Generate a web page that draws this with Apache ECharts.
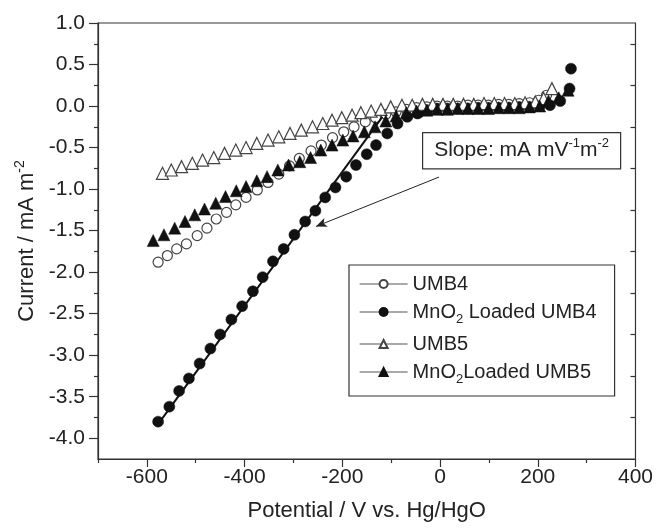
<!DOCTYPE html>
<html>
<head>
<meta charset="utf-8">
<script src="https://cdn.jsdelivr.net/npm/echarts@6/dist/echarts.min.js"></script>
<style>
  html, body { margin: 0; padding: 0; background: #fff; }
  #chart { width: 656px; height: 531px; }
</style>
</head>
<body>
<div id="chart"></div>
<script>
// UMB4 (open circles)
const umb4X = [-577, -558, -539, -519, -497, -477, -458, -437, -418, -397, -374, -352, -330, -308, -288, -264, -243, -220, -197, -176, -153, -132, -111, -90, -69, -48, -27, -6, 15, 36, 57, 78, 99, 120, 141, 162, 183, 202, 218]
const umb4Y = [-1.88, -1.80, -1.72, -1.66, -1.56, -1.47, -1.36, -1.28, -1.19, -1.10, -1.01, -0.92, -0.82, -0.72, -0.63, -0.54, -0.47, -0.38, -0.31, -0.25, -0.19, -0.14, -0.10, -0.07, -0.04, -0.02, -0.01, 0.00, 0.00, 0.00, 0.01, 0.01, 0.01, 0.02, 0.02, 0.03, 0.04, 0.07, 0.13]

// MnO2 loaded UMB4 (filled circles)
const mnUmb4X = [-577, -554, -534, -514, -492, -470, -450, -427, -405, -383, -363, -342, -320, -298, -276, -255, -235, -214, -192, -172, -150, -131, -108, -87, -67, -46, -26, -6, 15, 36, 57, 78, 99, 120, 141, 162, 183, 204, 225, 246, 265, 268]
const mnUmb4Y = [-3.80, -3.62, -3.43, -3.28, -3.10, -2.92, -2.75, -2.57, -2.41, -2.23, -2.06, -1.87, -1.72, -1.55, -1.39, -1.26, -1.10, -0.98, -0.85, -0.71, -0.58, -0.47, -0.33, -0.21, -0.13, -0.09, -0.05, -0.03, -0.03, -0.03, -0.03, -0.02, -0.02, -0.02, -0.02, -0.01, -0.01, 0.00, 0.01, 0.06, 0.21, 0.45]

// UMB5 (open triangles)
const umb5X = [-568, -550, -529, -507, -486, -463, -441, -418, -397, -375, -352, -330, -307, -284, -261, -240, -221, -201, -180, -162, -141, -121, -101, -78, -57, -36, -15, 6, 27, 48, 69, 90, 111, 132, 153, 174, 195, 212, 229]
const umb5Y = [-0.81, -0.77, -0.73, -0.69, -0.65, -0.62, -0.57, -0.53, -0.50, -0.45, -0.41, -0.37, -0.33, -0.29, -0.25, -0.21, -0.17, -0.14, -0.11, -0.08, -0.06, -0.04, -0.01, 0.01, 0.01, 0.02, 0.02, 0.02, 0.02, 0.02, 0.02, 0.03, 0.03, 0.03, 0.03, 0.04, 0.05, 0.09, 0.21]

// MnO2 loaded UMB5 (filled triangles)
const mnUmb5X = [-587, -565, -543, -522, -502, -482, -459, -439, -417, -397, -375, -354, -332, -310, -287, -265, -244, -221, -199, -178, -155, -133, -111, -90, -69, -48, -27, -6, 15, 36, 57, 78, 99, 120, 141, 162, 183, 204, 222, 243, 262]
const mnUmb5Y = [-1.62, -1.55, -1.47, -1.39, -1.31, -1.24, -1.17, -1.09, -1.02, -0.97, -0.90, -0.85, -0.77, -0.71, -0.67, -0.62, -0.53, -0.47, -0.41, -0.36, -0.31, -0.25, -0.18, -0.12, -0.08, -0.06, -0.05, -0.04, -0.04, -0.03, -0.03, -0.03, -0.03, -0.02, -0.02, -0.02, -0.01, 0.00, 0.06, 0.10, 0.19]

// linear fit through the MnO2 UMB4 points
const fitX = [-577, -118]
const fitY = [-3.83, -0.13]

// arrow from the slope label to the fit line
const arrowFrom = [-2, -0.855]
const arrowTo = [-254, -1.45]

// ticks
const xLabelTicks = [-600, -400, -200, 0, 200, 400]
const xMinorTicks = [-700, -500, -300, -100, 100, 300]
const yLabelTicks = [-4.0, -3.5, -3.0, -2.5, -2.0, -1.5, -1.0, -0.5, 0.0, 0.5, 1.0]
const yMinorTicks = [-3.75, -3.25, -2.75, -2.25, -1.75, -1.25, -0.75, -0.25, 0.25, 0.75]

const FONT = 'Liberation Sans, Arial, sans-serif'
const AXIS_COLOR = '#333'
const TEXT_COLOR = '#222'

const pairs = (xs, ys) => xs.map((x, i) => [x, ys[i]])

const subName = name => name.replace('MnO2', 'MnO{sub|2}')

// symbols only, the line is kept for the legend icon
const pointSeries = (name, xs, ys, symbol, size, filled) => ({
  name: name,
  type: 'line',
  data: pairs(xs, ys),
  symbol: symbol,
  symbolSize: size,
  showSymbol: true,
  lineStyle: { opacity: 0 },
  itemStyle: filled
    ? { color: '#111', borderColor: '#111', borderWidth: 0.5 }
    : { color: '#fff', borderColor: '#444', borderWidth: 1.2 },
  silent: true,
  z: 3
})

const chart = echarts.init(document.getElementById('chart'))

const option = {
  animation: false,
  grid: {
    left: 98,
    right: 19,
    top: 23,
    bottom: 72,
    show: true,
    borderColor: AXIS_COLOR,
    borderWidth: 1.2
  },
  legend: {
    orient: 'vertical',
    left: 349,
    top: 265,
    data: ['UMB4', 'MnO2 Loaded UMB4', 'UMB5', 'MnO2Loaded UMB5'],
    formatter: subName,
    itemWidth: 48,
    itemHeight: 10,
    itemGap: 8,
    padding: [9, 18, 10, 10],
    borderColor: AXIS_COLOR,
    borderWidth: 1.2,
    backgroundColor: '#fff',
    lineStyle: { color: '#555', width: 1.2, opacity: 1 },
    textStyle: {
      fontFamily: FONT,
      fontSize: 20,
      color: TEXT_COLOR,
      rich: {
        sub: { fontFamily: FONT, fontSize: 13, color: TEXT_COLOR, padding: [15, 0, 0, 0] }
      }
    }
  },
  xAxis: [
    {
      type: 'value',
      min: -700,
      max: 400,
      position: 'bottom',
      name: 'Potential / V vs. Hg/HgO',
      nameLocation: 'middle',
      nameGap: 41,
      nameTextStyle: { fontFamily: FONT, fontSize: 22, color: TEXT_COLOR },
      axisLine: { show: true, onZero: false, lineStyle: { color: AXIS_COLOR, width: 1.2 } },
      axisTick: { show: true, customValues: xLabelTicks, length: 8, lineStyle: { color: AXIS_COLOR, width: 1.2 } },
      axisLabel: { customValues: xLabelTicks, fontFamily: FONT, fontSize: 21, color: TEXT_COLOR, margin: 8 },
      splitLine: { show: false }
    },
    {
      type: 'value',
      min: -700,
      max: 400,
      position: 'bottom',
      axisLine: { show: false, onZero: false },
      axisTick: { show: true, customValues: xMinorTicks, length: 4, lineStyle: { color: AXIS_COLOR, width: 1.2 } },
      axisLabel: { show: false },
      splitLine: { show: false }
    }
  ],
  yAxis: [
    {
      type: 'value',
      min: -4.25,
      max: 1.0,
      position: 'left',
      name: 'Current / mA m{sup|-2}',
      nameLocation: 'middle',
      nameGap: 53,
      nameTextStyle: {
        fontFamily: FONT,
        fontSize: 22,
        color: TEXT_COLOR,
        rich: {
          sup: { fontFamily: FONT, fontSize: 14, color: TEXT_COLOR, padding: [0, 0, 14, 0] }
        }
      },
      axisLine: { show: true, onZero: false, lineStyle: { color: AXIS_COLOR, width: 1.2 } },
      axisTick: { show: true, customValues: yLabelTicks, length: 9, lineStyle: { color: AXIS_COLOR, width: 1.2 } },
      axisLabel: {
        customValues: yLabelTicks,
        formatter: v => v.toFixed(1),
        fontFamily: FONT,
        fontSize: 21,
        color: TEXT_COLOR,
        margin: 13
      },
      splitLine: { show: false }
    },
    {
      type: 'value',
      min: -4.25,
      max: 1.0,
      position: 'left',
      axisLine: { show: false, onZero: false },
      axisTick: { show: true, customValues: yMinorTicks, length: 4, lineStyle: { color: AXIS_COLOR, width: 1.2 } },
      axisLabel: { show: false },
      splitLine: { show: false }
    },
    {
      type: 'value',
      min: -4.25,
      max: 1.0,
      position: 'right',
      axisLine: { show: false, onZero: false },
      axisTick: { show: true, inside: true, customValues: yMinorTicks, length: 5, lineStyle: { color: AXIS_COLOR, width: 1.2 } },
      axisLabel: { show: false },
      splitLine: { show: false }
    }
  ],
  graphic: [
    {
      type: 'text',
      left: 422,
      top: 132,
      z: 10,
      style: {
        text: 'Slope: mA mV{sup|-1}m{sup|-2}',
        fontFamily: FONT,
        fontSize: 21,
        fill: TEXT_COLOR,
        rich: {
          sup: { fontFamily: FONT, fontSize: 13, fill: TEXT_COLOR, padding: [0, 0, 14, 0] }
        },
        backgroundColor: '#fff',
        borderColor: AXIS_COLOR,
        borderWidth: 1.2,
        padding: [4, 11, 4, 11]
      }
    }
  ],
  series: [
    pointSeries('UMB4', umb4X, umb4Y, 'circle', 10, false),
    pointSeries('MnO2 Loaded UMB4', mnUmb4X, mnUmb4Y, 'circle', 11, true),
    pointSeries('UMB5', umb5X, umb5Y, 'triangle', 12, false),
    pointSeries('MnO2Loaded UMB5', mnUmb5X, mnUmb5Y, 'triangle', 12, true),
    {
      name: 'fit',
      type: 'line',
      data: pairs(fitX, fitY),
      symbol: 'none',
      lineStyle: { color: '#111', width: 2 },
      silent: true,
      z: 4,
      markLine: {
        silent: true,
        symbol: ['none', 'arrow'],
        symbolSize: [7, 11],
        label: { show: false },
        lineStyle: { color: '#222', width: 1, type: 'solid' },
        data: [[{ coord: arrowFrom }, { coord: arrowTo }]]
      }
    }
  ]
}

chart.setOption(option)
</script>
</body>
</html>
